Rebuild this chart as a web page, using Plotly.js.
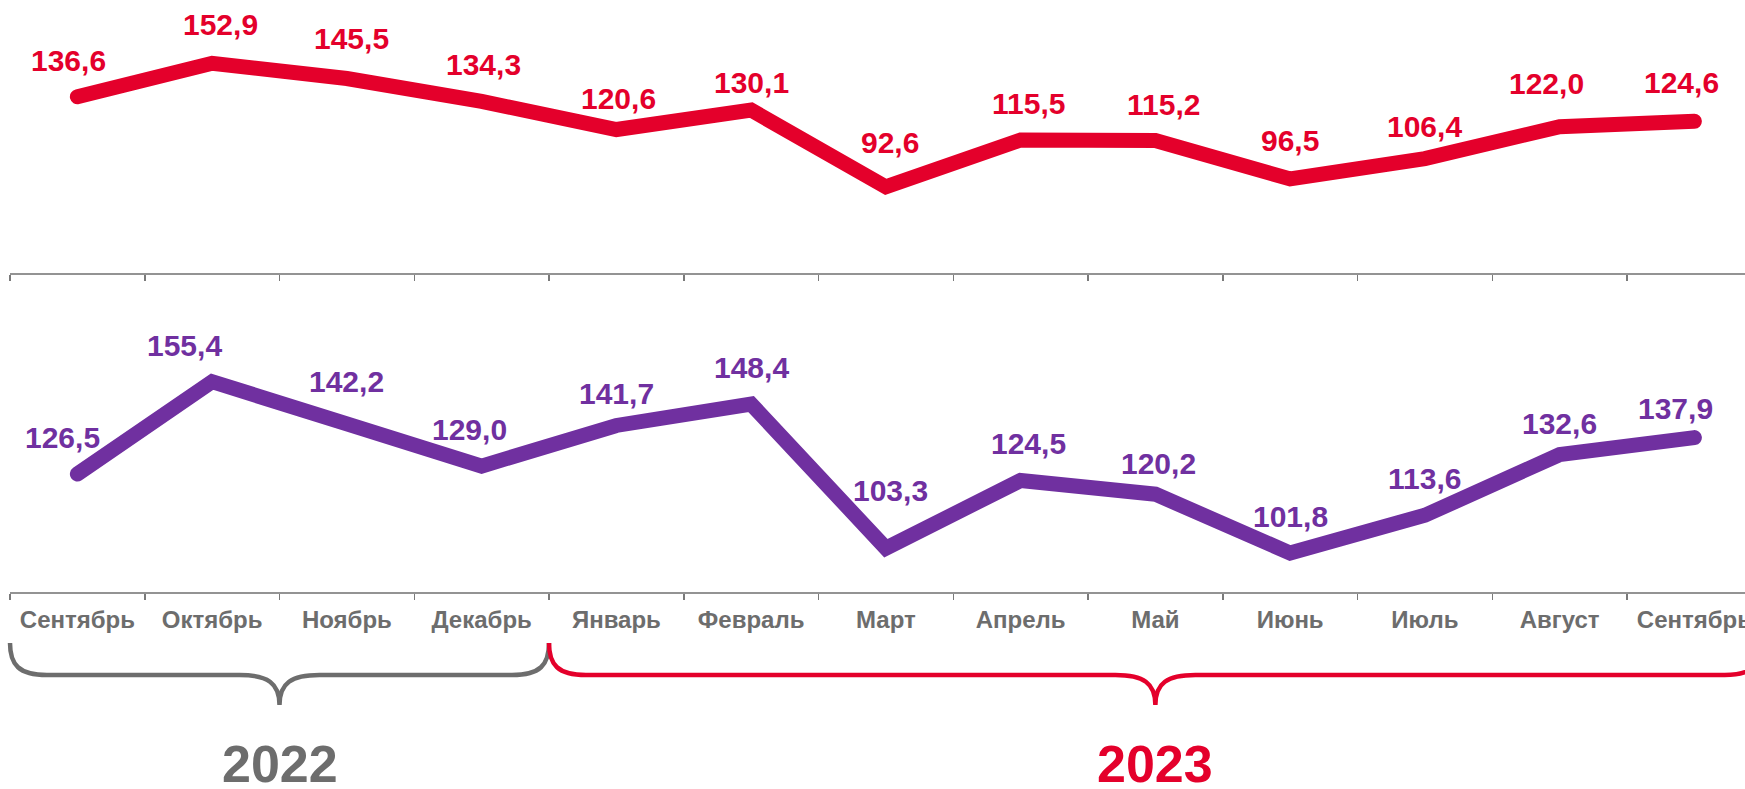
<!DOCTYPE html>
<html>
<head>
<meta charset="utf-8">
<script src="https://cdn.plot.ly/plotly-3.0.1.min.js"></script>
<style>
html,body{margin:0;padding:0;background:#fff;overflow:hidden}
#chart{width:1745px;height:789px}
.js-line{stroke-linecap:round}
</style>
</head>
<body>
<div id="chart"></div>
<script>
// ---- data ----
const months = ['Сентябрь','Октябрь','Ноябрь','Декабрь','Январь','Февраль','Март','Апрель','Май','Июнь','Июль','Август','Сентябрь'];
const monthYears = ['2022','2022','2022','2022','2023','2023','2023','2023','2023','2023','2023','2023','2023'];
const yearLabels = ['2022','2023'];
const redValues = [136.6,152.9,145.5,134.3,120.6,130.1,92.6,115.5,115.2,96.5,106.4,122.0,124.6];
const purpleValues = [126.5,155.4,142.2,129.0,141.7,148.4,103.3,124.5,120.2,101.8,113.6,132.6,137.9];

const categories = months.map((m,i)=>m+' '+monthYears[i]);
const fmt = v => v.toFixed(1).replace('.', ',');

// ---- style ----
const RED='#E4002B', PURPLE='#7030A0', GRAY='#6D6D6D', AXIS='#939393';
const FONT='"Liberation Sans", Arial, Helvetica, sans-serif';
const yearColors = [GRAY, RED];

// label placement nudges in pixels (style only)
const redLabelDx = [-9, 8, 5, 2, 2, 0, 4, 8, 8, 0, 0, -13, -13];
const redLabelDy = [0, 2, 4, 0, -5, -9, 8, 0, 0, 2, -4, 7, 2];
const purpleLabelDx = [-15, -28, 0, -12, 0, 0, 5, 8, 3, 0, 0, 0, -19];
const purpleLabelDy = [0, 0, 6, 0, -5, 0, 21, 0, -6, 0, 0, -5, -7];
const labelGap = 18;

// ---- geometry ----
const W=1745, H=789, mL=10, mB=197;
const plotH = H - mB;
const catW = 134.75;
const xRange = [-0.5, -0.5 + (W - mL)/catW];
const topAxisPx = 273;

const idxToPx = i => mL + (i - xRange[0]) * catW;
const pxToPaperX = px => (px - mL) / (W - mL);
const pxToPaperY = py => (plotH - py) / plotH;

function bracePath(i0, i1){
  const xa = idxToPx(i0), xb = idxToPx(i1), xm = (xa+xb)/2;
  const yTop=643, yMid=675, yTip=705, r=37, t=40;
  const P=(x,y)=> pxToPaperX(x).toFixed(5)+','+pxToPaperY(y).toFixed(5);
  return 'M'+P(xa,yTop)+' C'+P(xa,yMid-10)+' '+P(xa+9,yMid)+' '+P(xa+r,yMid)+
         ' L'+P(xm-t,yMid)+' C'+P(xm-12,yMid)+' '+P(xm,yMid+8)+' '+P(xm,yTip)+
         ' C'+P(xm,yMid+8)+' '+P(xm+12,yMid)+' '+P(xm+t,yMid)+
         ' L'+P(xb-r,yMid)+' C'+P(xb-9,yMid)+' '+P(xb,yMid-10)+' '+P(xb,yTop);
}

const shapes = [], annotations = [];
yearLabels.forEach((yr, k)=>{
  const first = monthYears.indexOf(yr), last = monthYears.lastIndexOf(yr);
  const i0 = first - 0.5, i1 = last + 0.5;
  shapes.push({type:'path', xref:'paper', yref:'paper', path: bracePath(i0,i1),
    line:{color:yearColors[k], width:4.5}, layer:'above'});
  annotations.push({xref:'paper', yref:'paper', x: pxToPaperX((idxToPx(i0)+idxToPx(i1))/2),
    y: pxToPaperY(764), xanchor:'center', yanchor:'middle', showarrow:false,
    text: yr, font:{family:FONT, size:52, color:yearColors[k], weight:'bold'}});
});

function addValueLabels(values, xref, yref, color, dxs, dys){
  values.forEach((v,i)=>{
    annotations.push({xref:xref, yref:yref, x:categories[i], y:v, showarrow:false,
      xanchor:'center', yanchor:'bottom', xshift:dxs[i], yshift:labelGap + dys[i],
      text: fmt(v), font:{family:FONT, size:30, color:color, weight:'bold'}, borderpad:1});
  });
}
addValueLabels(redValues, 'x2', 'y2', RED, redLabelDx, redLabelDy);
addValueLabels(purpleValues, 'x', 'y', PURPLE, purpleLabelDx, purpleLabelDy);

const traces = [
  {x:categories, y:redValues, xaxis:'x2', yaxis:'y2', type:'scatter', mode:'lines',
   line:{color:RED, width:15}, cliponaxis:false, hoverinfo:'skip', showlegend:false},
  {x:categories, y:purpleValues, xaxis:'x', yaxis:'y', type:'scatter', mode:'lines',
   line:{color:PURPLE, width:15}, cliponaxis:false, hoverinfo:'skip', showlegend:false}
];

const xCommon = {type:'category', categoryorder:'array', categoryarray:categories, range:xRange,
  tickmode:'array', tickvals:categories, ticktext:months, tickson:'boundaries',
  ticks:'outside', ticklen:6, tickwidth:1.5, tickcolor:'#7a7a7a',
  showline:true, linecolor:AXIS, linewidth:2, showgrid:false, zeroline:false, fixedrange:true,
  ticklabelstandoff:5,
  tickfont:{family:FONT, size:24, color:GRAY, weight:'bold'}};

const layout = {
  width:W, height:H, margin:{l:mL, r:0, t:0, b:mB, pad:0},
  paper_bgcolor:'#fff', plot_bgcolor:'#fff', showlegend:false,
  font:{family:FONT},
  xaxis: Object.assign({}, xCommon, {anchor:'y'}),
  xaxis2: Object.assign({}, xCommon, {anchor:'y2', showticklabels:false}),
  yaxis: {domain:[0,0.5], range:[89.6,182.2], visible:false, fixedrange:true},
  yaxis2: {domain:[(plotH-topAxisPx)/plotH,1], range:[50.6,183.8], visible:false, fixedrange:true},
  shapes: shapes, annotations: annotations
};

Plotly.newPlot('chart', traces, layout, {displayModeBar:false, staticPlot:true});
</script>
</body>
</html>
